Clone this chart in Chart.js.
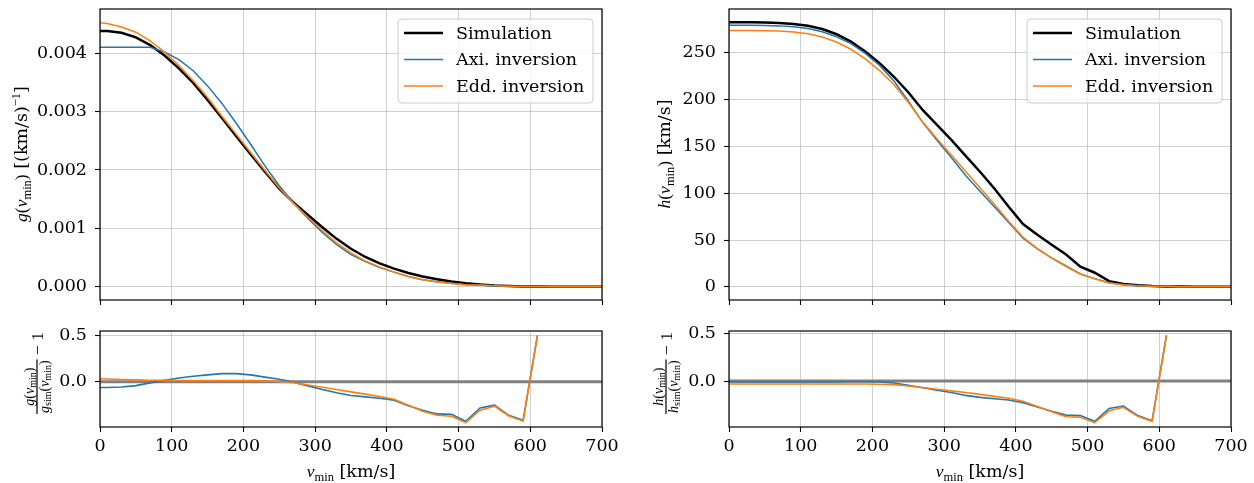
<!DOCTYPE html>
<html>
<head>
<meta charset="utf-8">
<script src="https://cdn.jsdelivr.net/npm/chart.js@4.4.1/dist/chart.umd.min.js"></script>
<style>
  body { margin: 0; background: #fff; }
  .panel { position: absolute; }
</style>
</head>
<body>
<canvas id="g-top" class="panel" width="620" height="318" style="left:0;top:0"></canvas>
<canvas id="g-res" class="panel" width="620" height="165" style="left:0;top:318px"></canvas>
<canvas id="h-top" class="panel" width="624" height="318" style="left:630px;top:0"></canvas>
<canvas id="h-res" class="panel" width="624" height="165" style="left:630px;top:318px"></canvas>
<script>
// v_min bins [km/s]
const vmin = [0, 10, 30, 50, 70, 90, 110, 130, 150, 170, 190, 210, 230, 250, 270, 290, 310, 330, 350,
  370, 390, 410, 430, 450, 470, 490, 510, 530, 550, 570, 590, 610, 630, 650, 670, 690, 700];

// g(v_min) [(km/s)^-1]
const gSim = [0.00438, 0.00438, 0.00435, 0.00427, 0.00414, 0.00396, 0.00374, 0.00349, 0.00320, 0.00289,
  0.00258, 0.00227, 0.00197, 0.00168, 0.00144, 0.00123, 0.00102, 0.00082, 0.00065, 0.00051, 0.00040,
  0.00031, 0.000235, 0.000175, 0.00013, 0.00009, 0.000062, 0.00004, 0.000022, 0.000012, 0.000006,
  0.000003, 0.000001, 0, 0, 0, 0];
const gAxi = [0.00410, 0.00410, 0.00410, 0.00410, 0.00410, 0.00402, 0.00389, 0.00370, 0.00344, 0.00314,
  0.00280, 0.00244, 0.00207, 0.00173, 0.00143, 0.00117, 0.00093, 0.00072, 0.00055, 0.00043, 0.00033,
  0.00025, 0.000174, 0.00012, 0.000085, 0.000058, 0.000035, 0.000029, 0.000016, 0.0000076, 0.0000035,
  0.0000045, 0.000001, 0, 0, 0, 0];
const gEdd = [0.00452, 0.00451, 0.00445, 0.00436, 0.00421, 0.00402, 0.00379, 0.00353, 0.00324, 0.00292,
  0.00261, 0.00230, 0.00199, 0.00169, 0.00143, 0.00119, 0.00096, 0.00075, 0.00058, 0.00044, 0.000336,
  0.00025, 0.000175, 0.000119, 0.000083, 0.000056, 0.000034, 0.000028, 0.000016, 0.0000075, 0.0000034,
  0.0000046, 0.000001, 0, 0, 0, 0];

// g / g_sim - 1 (undefined where the simulation is zero)
const gResAxi = [-0.062, -0.062, -0.057, -0.042, -0.012, 0.015, 0.04, 0.06, 0.075, 0.088, 0.088, 0.075,
  0.05, 0.028, -0.005, -0.045, -0.085, -0.12, -0.15, -0.165, -0.18, -0.2, -0.26, -0.31, -0.35, -0.355,
  -0.43, -0.285, -0.255, -0.365, -0.42, 0.505, null, null, null, null, null];
const gResEdd = [0.033, 0.03, 0.024, 0.02, 0.016, 0.015, 0.013, 0.012, 0.012, 0.012, 0.012, 0.012,
  0.01, 0.004, -0.01, -0.035, -0.06, -0.085, -0.11, -0.135, -0.16, -0.19, -0.255, -0.32, -0.365, -0.376,
  -0.445, -0.31, -0.266, -0.372, -0.427, 0.505, null, null, null, null, null];

// h(v_min) [km/s]
const hSim = [282.8, 282.8, 282.7, 282.5, 282.0, 281.0, 279.0, 275.5, 270.0, 262.0, 251.5, 239.0, 224.5,
  208.0, 189.0, 173.0, 157.0, 140.0, 123.0, 105.0, 85.5, 67.0, 55.5, 45.0, 34.5, 21.5, 15.0, 6.0, 2.9,
  1.6, 0.8, 0.4, 0.2, 0.1, 0, 0, 0];
const hAxi = [279.7, 279.7, 279.6, 279.4, 278.9, 277.9, 276.2, 272.7, 267.3, 259.9, 249.5, 236.6, 220.0,
  198.6, 175.8, 156.6, 138.2, 119.0, 102.1, 85.6, 68.6, 51.9, 40.5, 30.8, 22.3, 13.8, 8.7, 4.3, 2.1, 1.0,
  0.47, 0.59, 0.15, 0.05, 0, 0, 0];
const hEdd = [274.0, 274.0, 273.9, 273.7, 273.3, 272.3, 270.4, 267.0, 261.6, 253.9, 243.7, 231.1, 216.0,
  197.2, 176.1, 158.3, 140.8, 123.2, 105.9, 88.2, 70.1, 52.9, 40.8, 30.6, 21.7, 13.4, 8.5, 4.1, 2.1, 1.0,
  0.46, 0.59, 0.15, 0.05, 0, 0, 0];

const hResAxi = [-0.011, -0.011, -0.011, -0.011, -0.011, -0.011, -0.01, -0.01, -0.01, -0.008, -0.008,
  -0.01, -0.02, -0.045, -0.07, -0.095, -0.12, -0.15, -0.17, -0.185, -0.198, -0.225, -0.27, -0.315, -0.355,
  -0.36, -0.42, -0.285, -0.26, -0.36, -0.413, 0.475, null, null, null, null, null];
const hResEdd = [-0.031, -0.031, -0.031, -0.031, -0.031, -0.031, -0.031, -0.031, -0.031, -0.031, -0.031,
  -0.033, -0.038, -0.052, -0.068, -0.085, -0.103, -0.12, -0.139, -0.16, -0.18, -0.21, -0.265, -0.32,
  -0.372, -0.378, -0.434, -0.31, -0.274, -0.368, -0.42, 0.475, null, null, null, null, null];

const vTicks = [0, 100, 200, 300, 400, 500, 600, 700];
const gTicks = [0, 0.001, 0.002, 0.003, 0.004];
const hTicks = [0, 50, 100, 150, 200, 250];
const resTicks = [0, 0.5];

const seriesNames = ['Simulation', 'Axi. inversion', 'Edd. inversion'];
const seriesColors = ['#000000', '#1f77b4', '#ff7f0e'];
const seriesWidths = [2.5, 1.5, 1.5];

const SERIF = '"DejaVu Serif", serif';
const MATH = '"Liberation Serif", "Times New Roman", serif';
const FS = 17.5;

// rich text pieces for mathtext-like labels
const mi = (t, size = FS) => ({ t, it: true, size, fam: MATH });
const mr = (t, size = FS) => ({ t, size, fam: MATH });
const sub = (t, size = 12.5, dy = 3.5) => ({ t, size, fam: MATH, dy });
const sup = (t, size = 12.5) => ({ t, size, fam: MATH, dy: -7 });
const tx = (t, size = FS) => ({ t, size, fam: SERIF });

function segFont(s) { return (s.it ? 'italic ' : '') + s.size + 'px ' + s.fam; }
function richWidth(ctx, segs) {
  let w = 0;
  for (const s of segs) { ctx.font = segFont(s); w += ctx.measureText(s.t).width; }
  return w;
}
function drawRich(ctx, segs, x, y) {
  let cx = x;
  for (const s of segs) {
    ctx.font = segFont(s);
    ctx.fillText(s.t, cx, y + (s.dy || 0));
    cx += ctx.measureText(s.t).width;
  }
}
function drawRotated(ctx, segs, x, y) {
  ctx.save();
  ctx.translate(x, y);
  ctx.rotate(-Math.PI / 2);
  ctx.fillStyle = '#000';
  ctx.textBaseline = 'alphabetic';
  drawRich(ctx, segs, -richWidth(ctx, segs) / 2, 0);
  ctx.restore();
}
function drawFracLabel(ctx, num, den, tail, x, y) {
  ctx.save();
  ctx.translate(x, y);
  ctx.rotate(-Math.PI / 2);
  ctx.fillStyle = '#000';
  ctx.textBaseline = 'alphabetic';
  const wn = richWidth(ctx, num), wd = richWidth(ctx, den), wt = richWidth(ctx, tail);
  const fw = Math.max(wn, wd) + 2;
  const x0 = -(fw + wt) / 2;
  ctx.fillRect(x0, -0.6, fw, 1.2);
  drawRich(ctx, num, x0 + (fw - wn) / 2, -3.5);
  drawRich(ctx, den, x0 + (fw - wd) / 2, 11.5);
  drawRich(ctx, tail, x0 + fw, 5.5);
  ctx.restore();
}

const vLabel = [mi('v'), sub('min'), tx(' [km/s]')];
const gLabel = [mi('g'), mr('('), mi('v'), sub('min'), mr(')'), tx(' [(km/s)'), sup('\u22121'), tx(']')];
const hLabel = [mi('h'), mr('('), mi('v'), sub('min'), mr(')'), tx(' [km/s]')];
const fracPart = (f, withSim) => {
  const s = 14;
  const parts = [mi(f, s)];
  if (withSim) parts.push(sub('sim', 10, 2.5));
  parts.push(mr('(', s), mi('v', s), sub('min', 10, 2.5), mr(')', s));
  return parts;
};
const tail = [mr(' \u2212 1', FS)];

const xy = arr => vmin.map((v, i) => ({ x: v, y: arr[i] }));

function line(label, data, color, width) {
  return { label, data: xy(data), borderColor: color, borderWidth: width, pointRadius: 0, tension: 0,
    fill: false, spanGaps: false };
}

function framePlugin(extra) {
  return {
    id: 'frame',
    afterDraw(chart) {
      const { ctx, chartArea: a } = chart;
      ctx.save();
      ctx.strokeStyle = '#000';
      ctx.lineWidth = 1.2;
      ctx.strokeRect(a.left, a.top, a.right - a.left, a.bottom - a.top);
      ctx.restore();
      extra(chart);
    }
  };
}

function drawLegend(chart) {
  const { ctx, chartArea: a } = chart;
  const w = 195, h = 84, r = 4;
  const x = a.right - 9 - w, y = a.top + 10;
  ctx.save();
  ctx.beginPath();
  ctx.moveTo(x + r, y);
  ctx.arcTo(x + w, y, x + w, y + h, r);
  ctx.arcTo(x + w, y + h, x, y + h, r);
  ctx.arcTo(x, y + h, x, y, r);
  ctx.arcTo(x, y, x + w, y, r);
  ctx.closePath();
  ctx.fillStyle = 'rgba(255,255,255,0.8)';
  ctx.fill();
  ctx.strokeStyle = '#cccccc';
  ctx.lineWidth = 1;
  ctx.stroke();
  ctx.font = FS + 'px ' + SERIF;
  ctx.textBaseline = 'middle';
  seriesNames.forEach((name, i) => {
    const cy = y + 14 + i * 26.5;
    ctx.strokeStyle = seriesColors[i];
    ctx.lineWidth = seriesWidths[i];
    ctx.beginPath();
    ctx.moveTo(x + 6, cy);
    ctx.lineTo(x + 45, cy);
    ctx.stroke();
    ctx.fillStyle = '#000';
    ctx.fillText(name, x + 58, cy + 1);
  });
  ctx.restore();
}

const gridColor = 'rgba(176,176,176,0.6)';
const tickFont = { family: SERIF, size: FS };

// pin axis boxes so every panel's plot area lands on fixed pixels
function pin(s, key, size) {
  s[key] = size;
  s.paddingTop = 0; s.paddingBottom = 0; s.paddingLeft = 0; s.paddingRight = 0;
}

function makePanel(id, o) {
  const datasets = o.residual
    ? [line(seriesNames[2], o.edd, seriesColors[2], 1.6),
       line(seriesNames[1], o.axi, seriesColors[1], 1.6),
       { label: 'zero', data: [{ x: 0, y: 0 }, { x: 700, y: 0 }], borderColor: '#808080', borderWidth: 2.8,
         pointRadius: 0 }]
    : [line(seriesNames[2], o.edd, seriesColors[2], seriesWidths[2]),
       line(seriesNames[1], o.axi, seriesColors[1], seriesWidths[1]),
       line(seriesNames[0], o.sim, seriesColors[0], seriesWidths[0])];

  return new Chart(document.getElementById(id), {
    type: 'line',
    data: { datasets },
    options: {
      responsive: false,
      animation: false,
      devicePixelRatio: 1,
      layout: { padding: { top: o.padTop, right: o.padRight, left: 0, bottom: 0 } },
      plugins: { legend: { display: false }, tooltip: { enabled: false } },
      scales: {
        x: {
          type: 'linear', min: 0, max: 700,
          afterBuildTicks: s => { s.ticks = vTicks.map(v => ({ value: v })); },
          afterFit: s => pin(s, 'height', o.xHeight),
          border: { display: false },
          grid: { color: gridColor, lineWidth: 1, drawTicks: true, tickLength: 5, tickColor: '#000', tickWidth: 1.1 },
          ticks: { display: o.residual, font: tickFont, color: '#000', padding: 4, maxRotation: 0, autoSkip: false,
            callback: v => String(v) }
        },
        y: {
          type: 'linear', min: o.yMin, max: o.yMax,
          afterBuildTicks: s => { s.ticks = o.yTicks.map(v => ({ value: v })); },
          afterFit: s => pin(s, 'width', o.yWidth),
          border: { display: false },
          grid: { color: gridColor, lineWidth: 1, drawTicks: true, tickLength: 5, tickColor: '#000', tickWidth: 1.1 },
          ticks: { font: tickFont, color: '#000', padding: 8, autoSkip: false, callback: o.fmt }
        }
      }
    },
    plugins: [framePlugin(o.extra)]
  });
}

makePanel('g-top', {
  sim: gSim, axi: gAxi, edd: gEdd, residual: false,
  yMin: -0.000227, yMax: 0.004757, yTicks: gTicks, fmt: v => v.toFixed(3),
  padTop: 9, padRight: 18, xHeight: 18, yWidth: 100,
  extra: chart => { drawLegend(chart); drawRotated(chart.ctx, gLabel, 27, 154); }
});

makePanel('g-res', {
  axi: gResAxi, edd: gResEdd, residual: true,
  yMin: -0.4925, yMax: 0.5525, yTicks: resTicks, fmt: v => v.toFixed(1),
  padTop: 13, padRight: 18, xHeight: 56, yWidth: 100,
  extra: chart => {
    const ctx = chart.ctx;
    drawFracLabel(ctx, fracPart('g', false), fracPart('g', true), tail, 37, 55);
    ctx.save();
    ctx.fillStyle = '#000';
    ctx.textBaseline = 'alphabetic';
    drawRich(ctx, vLabel, 351 - richWidth(ctx, vLabel) / 2, 159);
    ctx.restore();
  }
});

makePanel('h-top', {
  sim: hSim, axi: hAxi, edd: hEdd, residual: false,
  yMin: -14.14, yMax: 296.94, yTicks: hTicks, fmt: v => String(v),
  padTop: 9, padRight: 23, xHeight: 18, yWidth: 99,
  extra: chart => { drawLegend(chart); drawRotated(chart.ctx, hLabel, 40, 154); }
});

makePanel('h-res', {
  axi: hResAxi, edd: hResEdd, residual: true,
  yMin: -0.479, yMax: 0.521, yTicks: resTicks, fmt: v => v.toFixed(1),
  padTop: 13, padRight: 23, xHeight: 56, yWidth: 99,
  extra: chart => {
    const ctx = chart.ctx;
    drawFracLabel(ctx, fracPart('h', false), fracPart('h', true), tail, 36, 55);
    ctx.save();
    ctx.fillStyle = '#000';
    ctx.textBaseline = 'alphabetic';
    drawRich(ctx, vLabel, 350 - richWidth(ctx, vLabel) / 2, 159);
    ctx.restore();
  }
});
</script>
</body>
</html>
